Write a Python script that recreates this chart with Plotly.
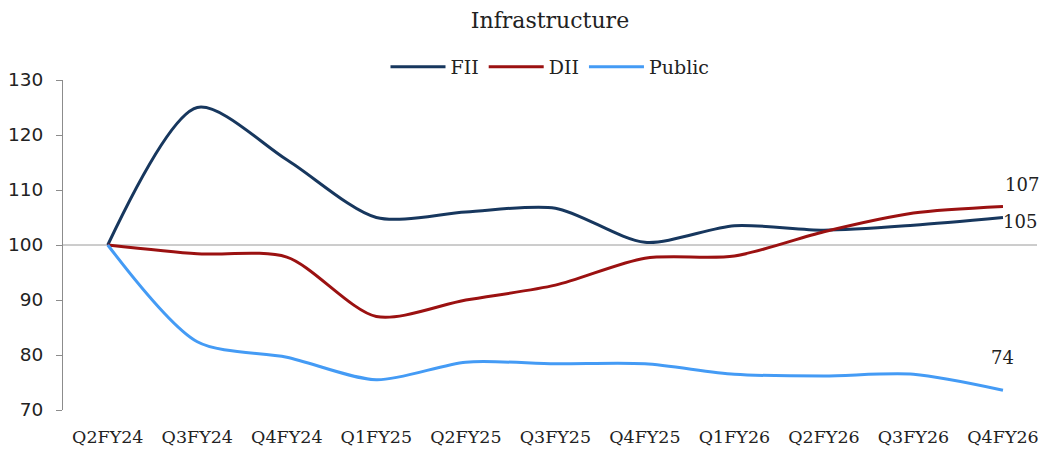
import plotly.graph_objects as go

quarters = ["Q2FY24", "Q3FY24", "Q4FY24", "Q1FY25", "Q2FY25", "Q3FY25",
            "Q4FY25", "Q1FY26", "Q2FY26", "Q3FY26", "Q4FY26"]
fii = [100, 125, 115.5, 105, 106, 106.7, 100.5, 103.5, 102.7, 103.6, 105]
dii = [100, 98.4, 97.8, 87, 90, 92.7, 97.6, 98, 102.4, 105.8, 107]
public = [100, 82.4, 79.6, 75.5, 78.7, 78.4, 78.4, 76.5, 76.2, 76.5, 73.6]
y_ticks = [70, 80, 90, 100, 110, 120, 130]

serif = "DejaVu Serif"
sans = "DejaVu Sans"

fig = go.Figure()
idx = list(range(len(quarters)))
for name, vals, col in [("FII", fii, "#17375E"), ("DII", dii, "#9B1111"), ("Public", public, "#449BF5")]:
    fig.add_trace(go.Scatter(x=idx, y=vals, name=name, mode="lines",
                             line=dict(color=col, width=3, shape="spline", smoothing=0.8)))

fig.add_shape(type="line", xref="paper", yref="y", x0=0, x1=1, y0=100, y1=100,
              line=dict(color="#9a9a9a", width=1), layer="below")

last = len(quarters) - 1
fig.add_annotation(x=last, y=dii[-1], text="107", showarrow=False, xshift=19, yshift=22,
                   font=dict(family=serif, size=18, color="#222"))
fig.add_annotation(x=last, y=fii[-1], text="105", showarrow=False, xshift=17, yshift=-4,
                   font=dict(family=serif, size=18, color="#222"))
fig.add_annotation(x=last, y=public[-1], text="74", showarrow=False, xshift=0, yshift=33,
                   font=dict(family=serif, size=18, color="#222"))

fig.update_layout(
    width=1043, height=452,
    margin=dict(l=63, r=6, t=80, b=42, autoexpand=False),
    plot_bgcolor="white", paper_bgcolor="white",
    title=dict(text="Infrastructure", x=0.5, xanchor="center", xref="paper",
               y=1 - 20 / 452, yanchor="middle", yref="container",
               font=dict(family=serif, size=22, color="#222")),
    legend=dict(orientation="h", x=0.5, xanchor="center", y=1 - 67 / 452, yanchor="middle",
                yref="container", font=dict(family=serif, size=19, color="#222"),
                itemwidth=55, bgcolor="rgba(0,0,0,0)"),
    showlegend=True,
)
fig.update_xaxes(range=[-0.5, 10.38], tickmode="array", tickvals=idx, ticktext=quarters,
                 showgrid=False, showline=False, ticks="", zeroline=False, automargin=False,
                 ticklabelstandoff=14,
                 tickfont=dict(family=serif, size=17.5, color="#222"))
fig.update_yaxes(range=[70, 130], tickvals=y_ticks, showgrid=False, showline=True,
                 linecolor="#8c8c8c", linewidth=1, ticks="outside", ticklen=6,
                 tickcolor="#8c8c8c", zeroline=False, automargin=False,
                 ticklabelstandoff=9,
                 tickfont=dict(family=sans, size=18.5, color="#222"))

fig.write_html("out.html", config={"displayModeBar": False},
               post_script="document.body.style.margin='0';document.body.style.overflow='hidden';")
